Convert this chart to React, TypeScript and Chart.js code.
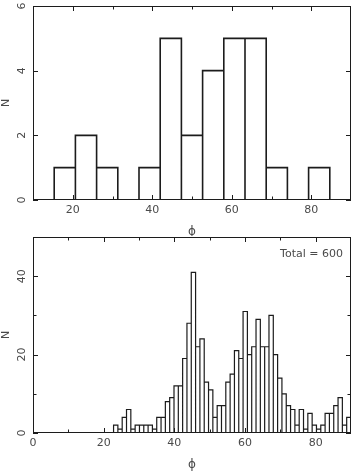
import React, { useEffect, useRef } from "react";
import { Chart, registerables } from "chart.js";

Chart.register(...registerables);

// Upper panel: coarse histogram of phi, 15 equal bins between 10 and 90 degrees
const upperCounts = [0, 1, 2, 1, 0, 1, 5, 2, 4, 5, 5, 1, 0, 1, 0];
const upperBinRange = [10, 90];
const upperXMajor = [20, 40, 60, 80];
const upperXMinor = [30, 50, 70];
const upperYMajor = [0, 2, 4, 6];
const upperYMinor: number[] = [];

// Lower panel: fine histogram of phi, 55 equal bins ending at 90 degrees
const lowerCounts = [
  2, 1, 4, 6, 1, 2, 2, 2, 2, 1,
  4, 4, 8, 9, 12, 12, 19, 28, 41, 22,
  24, 13, 11, 4, 7, 7, 13, 15, 21, 19,
  31, 20, 22, 29, 22, 22, 30, 20, 14, 10,
  7, 6, 2, 6, 1, 5, 2, 1, 2, 5,
  5, 7, 9, 2, 4,
];
const lowerBinRange = [22.8, 90];
const lowerXMajor = [0, 20, 40, 60, 80];
const lowerXMinor = [10, 30, 50, 70];
const lowerYMajor = [0, 20, 40];
const lowerYMinor = [10, 30];

const INK = "#1c1c1c";
const TEXT = "#4a4a4a";
const FONT = '11px "DejaVu Sans"';

type Panel = {
  counts: number[];
  binRange: number[];
  xMin: number;
  xMax: number;
  yMax: number;
  xMajor: number[];
  xMinor: number[];
  yMajor: number[];
  yMinor: number[];
  note?: string;
  lineWidth: number;
};

// Frame, inward ticks, tick labels and axis titles
const framePlugin = {
  id: "frame",
  afterDraw(chart: any, _args: any, opts: any) {
    const { ctx, chartArea: a, scales } = chart;
    const xs = scales.x;
    const ys = scales.y;
    ctx.save();
    ctx.strokeStyle = INK;
    ctx.lineWidth = 1;
    ctx.strokeRect(a.left + 0.5, a.top + 0.5, a.right - a.left - 1, a.bottom - a.top - 1);

    const xTick = (v: number, len: number) => {
      const px = Math.round(xs.getPixelForValue(v)) + 0.5;
      ctx.beginPath();
      ctx.moveTo(px, a.bottom);
      ctx.lineTo(px, a.bottom - len);
      ctx.moveTo(px, a.top);
      ctx.lineTo(px, a.top + len);
      ctx.stroke();
    };
    const yTick = (v: number, len: number) => {
      const py = Math.round(ys.getPixelForValue(v)) + 0.5;
      ctx.beginPath();
      ctx.moveTo(a.left, py);
      ctx.lineTo(a.left + len, py);
      ctx.moveTo(a.right, py);
      ctx.lineTo(a.right - len, py);
      ctx.stroke();
    };
    opts.xMajor.forEach((v: number) => xTick(v, 5));
    opts.xMinor.forEach((v: number) => xTick(v, 3.5));
    opts.yMajor.forEach((v: number) => yTick(v, 5));
    opts.yMinor.forEach((v: number) => yTick(v, 3.5));

    ctx.fillStyle = TEXT;
    ctx.font = FONT;
    ctx.textAlign = "center";
    ctx.textBaseline = "middle";
    opts.xMajor.forEach((v: number) => {
      ctx.fillText(String(v), xs.getPixelForValue(v), a.bottom + 10);
    });
    const rotated = (text: string, x: number, y: number) => {
      ctx.save();
      ctx.translate(x, y);
      ctx.rotate(-Math.PI / 2);
      ctx.fillText(text, 0, 0);
      ctx.restore();
    };
    opts.yMajor.forEach((v: number) => rotated(String(v), a.left - 11, ys.getPixelForValue(v)));
    rotated("N", 6, (a.top + a.bottom) / 2);
    ctx.font = '12px "DejaVu Sans"';
    ctx.fillText("ϕ", (a.left + a.right) / 2, a.bottom + 32);
    if (opts.note) {
      ctx.font = FONT;
      ctx.textAlign = "right";
      ctx.fillText(opts.note, a.right - 8, a.top + 17);
    }
    ctx.restore();
  },
};

function Histogram({ panel, top, height, padTop, padBottom }: { panel: Panel; top: number; height: number; padTop: number; padBottom: number }) {
  const ref = useRef<HTMLCanvasElement | null>(null);
  useEffect(() => {
    if (!ref.current) return;
    const [lo, hi] = panel.binRange;
    const w = (hi - lo) / panel.counts.length;
    const bars = panel.counts.map((c, i) => ({ x: lo + w * (i + 0.5), y: c }));
    // outline of every bin: up the left edge, across the top, down the right edge
    const outline: { x: number; y: number }[] = [];
    panel.counts.forEach((c, i) => {
      const l = lo + w * i;
      const r = l + w;
      outline.push({ x: l, y: 0 }, { x: l, y: c }, { x: r, y: c }, { x: r, y: 0 });
    });
    const chart = new Chart(ref.current, {
      type: "bar",
      data: {
        datasets: [
          {
            type: "line",
            data: outline as any,
            borderColor: INK,
            borderWidth: panel.lineWidth,
            pointRadius: 0,
            tension: 0,
            fill: false,
            borderJoinStyle: "miter",
          } as any,
          {
            data: bars as any,
            backgroundColor: "#ffffff",
            borderWidth: 0,
            categoryPercentage: 1,
            barPercentage: 1,
          },
        ],
      },
      options: {
        animation: false,
        responsive: false,
        devicePixelRatio: 1,
        layout: { padding: { left: 33, right: 2, top: padTop, bottom: padBottom } },
        scales: {
          x: { type: "linear", min: panel.xMin, max: panel.xMax, display: false, offset: false },
          y: { type: "linear", min: 0, max: panel.yMax, display: false },
        },
        plugins: {
          legend: { display: false },
          tooltip: { enabled: false },
          frame: panel,
        } as any,
      },
      plugins: [framePlugin],
    });
    return () => chart.destroy();
  }, [panel]);
  return (
    <canvas
      ref={ref}
      width={353}
      height={height}
      style={{ position: "absolute", left: 0, top, width: 353, height }}
    />
  );
}

const upperPanel: Panel = {
  counts: upperCounts,
  binRange: upperBinRange,
  xMin: 10,
  xMax: 90,
  yMax: 6,
  xMajor: upperXMajor,
  xMinor: upperXMinor,
  yMajor: upperYMajor,
  yMinor: upperYMinor,
  lineWidth: 1.6,
};

const lowerPanel: Panel = {
  counts: lowerCounts,
  binRange: lowerBinRange,
  xMin: 0,
  xMax: 90,
  yMax: 50,
  xMajor: lowerXMajor,
  xMinor: lowerXMinor,
  yMajor: lowerYMajor,
  yMinor: lowerYMinor,
  note: `Total = ${lowerCounts.reduce((s, c) => s + c, 0)}`,
  lineWidth: 1.2,
};

export default function App() {
  return (
    <div style={{ position: "fixed", left: 0, top: 0, width: 353, height: 471, background: "#ffffff" }}>
      <Histogram panel={upperPanel} top={0} height={236} padTop={6} padBottom={36} />
      <Histogram panel={lowerPanel} top={236} height={235} padTop={1} padBottom={38} />
    </div>
  );
}
